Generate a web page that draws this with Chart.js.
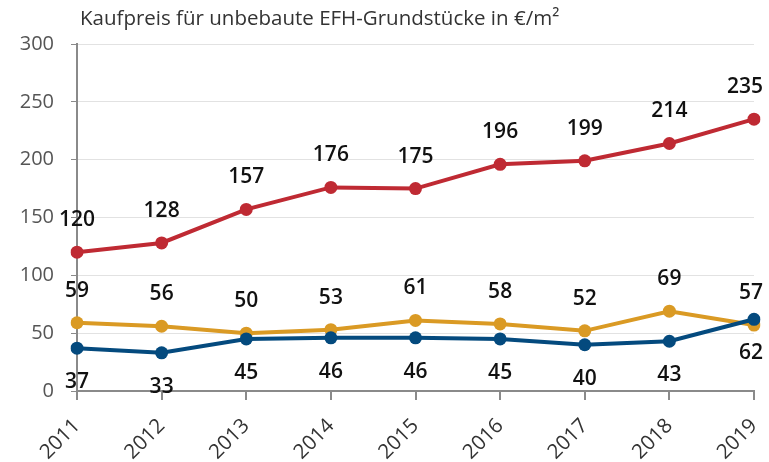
<!DOCTYPE html>
<html>
<head>
<meta charset="utf-8">
<script src="https://cdn.jsdelivr.net/npm/chart.js@4.4.0/dist/chart.umd.min.js"></script>
<style>
  html, body { margin: 0; padding: 0; background: #fff; }
  #wrap { width: 769px; height: 462px; }
</style>
</head>
<body>
<div id="wrap"><canvas id="preisChart" width="769" height="462"></canvas></div>
<script>
// Daten
const jahre = ['2011', '2012', '2013', '2014', '2015', '2016', '2017', '2018', '2019'];
const serieRot = [120, 128, 157, 176, 175, 196, 199, 214, 235];
const serieGelb = [59, 56, 50, 53, 61, 58, 52, 69, 57];
const serieBlau = [37, 33, 45, 46, 46, 45, 40, 43, 62];
const yTicks = [0, 50, 100, 150, 200, 250, 300];
const titel = 'Kaufpreis für unbebaute EFH-Grundstücke in €/m²';

const FONT = "'Open Sans', 'Noto Sans', sans-serif";

// Werte-Beschriftungen und Titel zeichnen
const labelPlugin = {
    id: 'labelPlugin',
    afterDatasetsDraw(chart) {
        const ctx = chart.ctx;
        const maxRight = chart.width - 6;
        ctx.save();
        ctx.font = '600 21px ' + FONT;
        ctx.fillStyle = '#111';
        ctx.textAlign = 'center';
        ctx.textBaseline = 'middle';
        chart.data.datasets.forEach((ds, i) => {
            const meta = chart.getDatasetMeta(i);
            meta.data.forEach((pt, j) => {
                const txt = String(ds.data[j]);
                const w = ctx.measureText(txt).width;
                const x = Math.min(pt.x, maxRight - w / 2);
                const off = ds.labelPos === 'below' ? 34 : -32;
                ctx.fillText(txt, x, pt.y + off);
            });
        });
        ctx.font = '20.5px ' + FONT;
        ctx.fillStyle = '#333';
        ctx.textAlign = 'left';
        ctx.fillText(titel, chart.chartArea.left + 3, 19);
        ctx.restore();
    }
};

const ctx = document.getElementById('preisChart').getContext('2d');
new Chart(ctx, {
    type: 'line',
    data: {
        labels: jahre,
        datasets: [
            {
                label: 'Blau',
                data: serieBlau,
                borderColor: '#044a7e',
                backgroundColor: '#044a7e',
                labelPos: 'below'
            },
            {
                label: 'Gelb',
                data: serieGelb,
                borderColor: '#da9a24',
                backgroundColor: '#da9a24',
                labelPos: 'above'
            },
            {
                label: 'Rot',
                data: serieRot,
                borderColor: '#bf2a33',
                backgroundColor: '#bf2a33',
                labelPos: 'above'
            }
        ]
    },
    options: {
        responsive: false,
        animation: false,
        layout: { padding: { top: 44, right: 15, left: 0, bottom: 0 } },
        elements: {
            line: { borderWidth: 4, tension: 0 },
            point: { radius: 6.5, borderWidth: 0, hoverRadius: 6.5 }
        },
        plugins: {
            legend: { display: false },
            title: { display: false },
            tooltip: { enabled: false }
        },
        scales: {
            x: {
                offset: false,
                border: { display: true, color: '#8a8a8a', width: 2 },
                grid: {
                    display: true,
                    drawOnChartArea: false,
                    drawTicks: true,
                    tickLength: 9,
                    color: '#8a8a8a',
                    lineWidth: 2
                },
                ticks: {
                    minRotation: 45,
                    maxRotation: 45,
                    padding: 14,
                    color: '#333',
                    font: { family: FONT, size: 20.5 }
                },
                afterFit(scale) {
                    scale.height = 71;
                    scale.paddingLeft = 0;
                    scale.paddingRight = 0;
                }
            },
            y: {
                min: 0,
                max: 300,
                border: { display: true, color: '#8a8a8a', width: 2 },
                grid: {
                    color: '#e2e2e2',
                    lineWidth: 1,
                    drawTicks: true,
                    tickLength: 6,
                    tickColor: '#8a8a8a',
                    tickBorderDash: [],
                },
                afterBuildTicks(scale) {
                    scale.ticks = yTicks.map(v => ({ value: v }));
                },
                ticks: {
                    padding: 17,
                    color: '#555',
                    font: { family: FONT, size: 20 }
                },
                afterFit(scale) { scale.width = 77; }
            }
        }
    },
    plugins: [labelPlugin]
});
</script>
</body>
</html>
